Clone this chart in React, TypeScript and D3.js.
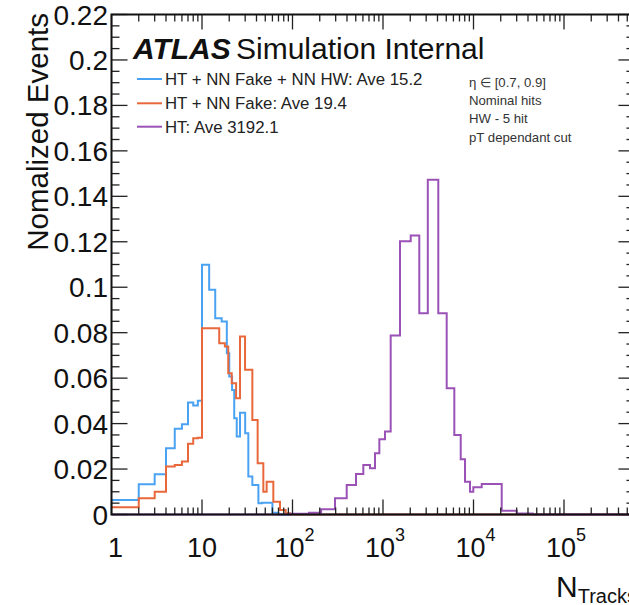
import React from "react";
import * as d3 from "d3";

// ---------- data ----------
const xDomain = [1, 6e5];
const yDomain = [0, 0.22];

const blueLabel = "HT + NN Fake + NN HW: Ave 15.2";
const blueEdges = [1, 2, 3, 4, 5, 6, 7, 8, 9, 10, 12, 14, 16.5, 18.8, 20, 21.5, 22.7, 24.2, 26.3, 30, 32.5, 36, 42, 46, 60, 70];
const blueValues = [0.0064, 0.0133, 0.0177, 0.0292, 0.0377, 0.0397, 0.0493, 0.048, 0.0501, 0.1099, 0.0989, 0.0864, 0.0849, 0.071, 0.0607, 0.0548, 0.0424, 0.0343, 0.0448, 0.0358, 0.0167, 0.013, 0.0049, 0.0052, 0.0008];

const orangeLabel = "HT + NN Fake: Ave 19.4";
const orangeEdges = [1, 2, 3, 4, 5, 6, 7, 8, 9, 10, 15.5, 17.9, 19.5, 21.3, 23.8, 26.3, 29.9, 36, 41.2, 47.6, 51.8, 61.4, 72.7, 84.1, 93.8];
const orangeValues = [0.0032, 0.0071, 0.01, 0.0211, 0.0218, 0.0233, 0.0311, 0.0335, 0.0338, 0.082, 0.0754, 0.0739, 0.0622, 0.0578, 0.0512, 0.0783, 0.0637, 0.0416, 0.0226, 0.01, 0.0144, 0.0056, 0.002, 0.0005];

const purpleLabel = "HT: Ave 3192.1";
const purpleEdges = [94, 152, 207, 295, 397, 503, 606, 718, 816, 911, 1052, 1216, 1541, 2024, 2518, 3126, 4083, 5056, 6138, 7224, 8060, 9148, 9950, 12324, 20500, 30000, 45000];
const purpleValues = [0.0003, 0.0008, 0.0023, 0.0071, 0.013, 0.0178, 0.0218, 0.0203, 0.027, 0.0331, 0.0365, 0.0788, 0.1202, 0.1228, 0.0886, 0.1473, 0.0886, 0.0556, 0.035, 0.0243, 0.0144, 0.01, 0.012, 0.0134, 0.0017, 0.0004];

const yTickValues = [0, 0.02, 0.04, 0.06, 0.08, 0.1, 0.12, 0.14, 0.16, 0.18, 0.2, 0.22];
const yTickLabels = ["0", "0.02", "0.04", "0.06", "0.08", "0.1", "0.12", "0.14", "0.16", "0.18", "0.2", "0.22"];
const xDecades = [0, 1, 2, 3, 4, 5];

const infoLines = ["\u03b7 \u2208 [0.7, 0.9]", "Nominal hits", "HW - 5 hit", "pT dependant cut"];

const colors = { blue: "#4aa2f2", orange: "#e8683c", purple: "#9a52b6" };

// ---------- layout ----------
const W = 629;
const H = 605;
const left = 111.5;
const decade = 90.5;
const top = 14.5;
const bottom = 514.5;
const FONT = "'Liberation Sans', Arial, Helvetica, sans-serif";

export default function App() {
  const x = d3.scaleLog().domain(xDomain).range([left, left + decade * Math.log10(xDomain[1])]);
  const y = d3.scaleLinear().domain(yDomain).range([bottom, top]);
  const right = x.range()[1];

  const line = d3
    .line<[number, number]>()
    .x((d) => x(d[0]))
    .y((d) => y(d[1]))
    .curve(d3.curveStepAfter);

  const histPath = (edges: number[], values: number[]) => {
    const pts: [number, number][] = [];
    if (edges[0] > xDomain[0]) pts.push([xDomain[0], 0]);
    values.forEach((v, i) => pts.push([edges[i], v]));
    pts.push([edges[edges.length - 1], 0]);
    pts.push([xDomain[1], 0]);
    return line(pts) || "";
  };

  const series = [
    { label: blueLabel, edges: blueEdges, values: blueValues, color: colors.blue },
    { label: orangeLabel, edges: orangeEdges, values: orangeValues, color: colors.orange },
    { label: purpleLabel, edges: purpleEdges, values: purpleValues, color: colors.purple },
  ];

  const yTicks = d3.range(0, 45).map((i) => ({ v: i * 0.005, major: i % 4 === 0 }));
  const xTicks: { v: number; major: boolean }[] = [];
  xDecades.forEach((d) => {
    for (let k = 1; k <= 9; k++) {
      const v = k * Math.pow(10, d);
      if (v <= xDomain[1]) xTicks.push({ v, major: k === 1 });
    }
  });

  return (
    <svg
      width={W}
      height={H}
      style={{ position: "absolute", left: 0, top: 0, display: "block", background: "#fff" }}
      fontFamily={FONT}
    >
      <rect x={0} y={0} width={W} height={H} fill="#fff" />
      <defs>
        <clipPath id="plotclip">
          <rect x={left} y={top - 2} width={right - left} height={bottom - top + 4} />
        </clipPath>
      </defs>

      <g clipPath="url(#plotclip)">
        {series.map((s) => (
          <path key={s.label} d={histPath(s.edges, s.values)} fill="none" stroke={s.color} strokeWidth={2} />
        ))}
      </g>

      <g stroke="#222" strokeWidth={1.3}>
        {yTicks.map((t, i) => (
          <g key={"yt" + i}>
            <line x1={left} x2={left + (t.major ? 16 : 8)} y1={y(t.v)} y2={y(t.v)} />
            <line x1={right} x2={right - (t.major ? 16 : 8)} y1={y(t.v)} y2={y(t.v)} />
          </g>
        ))}
        {xTicks.map((t, i) => (
          <g key={"xt" + i}>
            <line x1={x(t.v)} x2={x(t.v)} y1={bottom} y2={bottom - (t.major ? 15 : 7)} />
            <line x1={x(t.v)} x2={x(t.v)} y1={top} y2={top + (t.major ? 15 : 7)} />
          </g>
        ))}
      </g>

      <rect x={left} y={top} width={right - left} height={bottom - top} fill="none" stroke="#111" strokeWidth={2} />

      <g fontSize={28} fill="#111" textAnchor="end">
        {yTickValues.map((v, i) => (
          <text key={"yl" + i} x={108} y={y(v) + 10}>
            {yTickLabels[i]}
          </text>
        ))}
      </g>

      <g fontSize={27} fill="#111" textAnchor="middle">
        {xDecades.map((d) => (
          <text key={"xl" + d} x={x(Math.pow(10, d)) + (d === 0 ? 4 : d === 1 ? 0 : 2)} y={557}>
            {d === 0 ? "1" : d === 1 ? "10" : (
              <>
                <tspan>10</tspan>
                <tspan fontSize={18} dy={-16}>{String(d)}</tspan>
              </>
            )}
          </text>
        ))}
      </g>

      <text transform="translate(48,13) rotate(-90)" textAnchor="end" fontSize={29.5} fill="#111">
        Nomalized Events
      </text>
      <text x={556} y={597} fontSize={30} fill="#111">
        N<tspan fontSize={20} dy={6}>Tracks</tspan>
      </text>

      <text x={133} y={59} fontSize={30} fontWeight="bold" fontStyle="italic" fill="#111">
        ATLAS
      </text>
      <text x={236} y={59} fontSize={30} fill="#111">
        Simulation Internal
      </text>

      {series.map((s, i) => {
        const ly = [79, 103.3, 126.7][i];
        return (
          <g key={"lg" + i}>
            <line x1={137} x2={162} y1={ly} y2={ly} stroke={s.color} strokeWidth={2} />
            <text x={165} y={ly + 6} fontSize={16.8} fill="#222">
              {s.label}
            </text>
          </g>
        );
      })}

      {infoLines.map((t, i) => (
        <text key={"in" + i} x={469} y={[86.5, 104.5, 122.5, 141.5][i]} fontSize={13.2} fill="#333">
          {t}
        </text>
      ))}
    </svg>
  );
}
